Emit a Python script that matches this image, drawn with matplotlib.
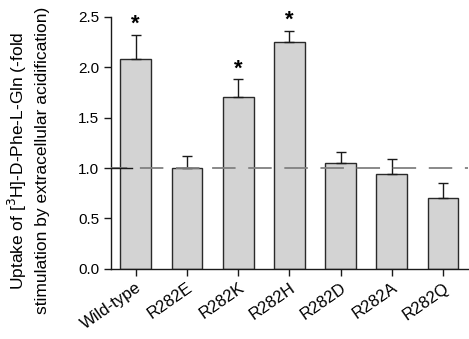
import matplotlib
matplotlib.use("Agg")
import matplotlib.pyplot as plt
import numpy as np

categories = ["Wild-type", "R282E", "R282K", "R282H", "R282D", "R282A", "R282Q"]
values = [2.08, 1.00, 1.71, 2.255, 1.05, 0.945, 0.705]
errors = [0.24, 0.12, 0.17, 0.105, 0.11, 0.15, 0.15]
significant = [True, False, True, True, False, False, False]

plt.rcParams['font.family'] = ['Liberation Sans', 'DejaVu Sans']
plt.rcParams['font.size'] = 11

fig = plt.figure(figsize=(4.69, 3.39), dpi=100)
ax = fig.add_axes([0.237, 0.207, 0.761, 0.743])

x = np.arange(len(categories))
ax.bar(x, values, width=0.6, color='#d3d3d3', edgecolor='#2a2a2a', linewidth=1.0, zorder=2)
ax.errorbar(x, values, yerr=[np.zeros(len(errors)), errors], fmt='none',
            ecolor='#1a1a1a', elinewidth=1.0, capsize=3.5, capthick=1.0, zorder=3)

ax.axhline(1.0, color='#808080', linestyle=(4, (13, 7)), linewidth=1.3, zorder=4)
ax.plot([0, 0.058], [1.0, 1.0], transform=ax.get_yaxis_transform(), color='#1a1a1a',
        linewidth=1.0, zorder=5)

for xi, v, e, s in zip(x, values, errors, significant):
    if s:
        ax.text(xi, v + e + 0.05, '*', ha='center', va='baseline', fontsize=16,
                fontweight='bold', clip_on=False)

ax.set_xlim(-0.48, 6.49)
ax.set_ylim(0, 2.5)
ax.set_yticks([0.0, 0.5, 1.0, 1.5, 2.0, 2.5])
ax.set_yticklabels(['0.0', '0.5', '1.0', '1.5', '2.0', '2.5'])
ax.set_xticks(x)
ax.set_xticklabels(categories, rotation=35, ha='right', va='top', rotation_mode='anchor',
                   fontsize=12)
ax.tick_params(axis='both', direction='out', length=5, width=1.0, colors='#1a1a1a',
               labelcolor='black')
ax.tick_params(axis='y', labelsize=11)
ax.tick_params(axis='x', pad=3)
for sp in ['top', 'right']:
    ax.spines[sp].set_visible(False)
for sp in ['left', 'bottom']:
    ax.spines[sp].set_linewidth(1.0)
    ax.spines[sp].set_color('#1a1a1a')

ax.set_ylabel('Uptake of [$^3$H]-D-Phe-L-Gln (-fold\nstimulation by extracellular acidification)',
              fontsize=12.5, linespacing=1.45)
ax.yaxis.set_label_coords(-0.172, 0.43)

fig.savefig('out.png', dpi=100)
